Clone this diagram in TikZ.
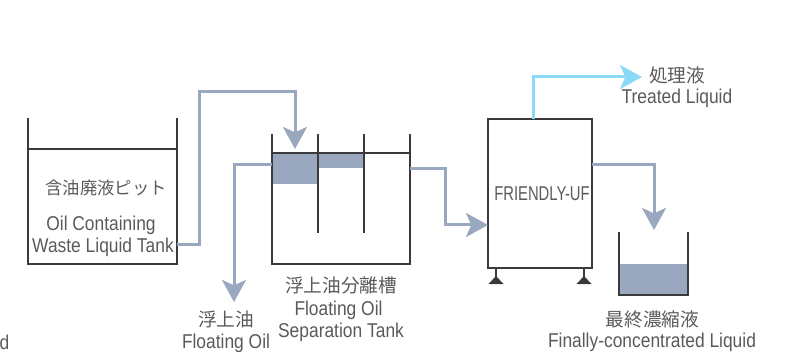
\documentclass[tikz,border=0pt]{standalone}
\usepackage{fontspec}
\setmainfont[FakeStretch=0.87]{Liberation Sans}
\newfontfamily\narrowfont[FakeStretch=0.74]{Liberation Sans}
\newfontfamily\cjk{Noto Sans CJK JP}
\usetikzlibrary{arrows.meta}
\definecolor{tankline}{HTML}{3A3A3A}
\definecolor{oilblue}{HTML}{9AA8BF}
\definecolor{cleanblue}{HTML}{8AD9F6}
\definecolor{labelgray}{HTML}{5A5A5A}

\begin{document}
\begin{tikzpicture}[x=0.75pt, y=-0.75pt]

    \tikzset{
        tank/.style={draw=tankline, line width=1.1pt},
        pipe/.style={draw=oilblue, line width=2.25pt},
        cleanpipe/.style={draw=cleanblue, line width=2.25pt},
        flow/.style={-{Stealth[length=16.5pt, width=18pt, inset=4pt]}},
        oil/.style={fill=oilblue, draw=none},
        jp/.style={text=labelgray, font=\fontsize{14}{16}\selectfont\cjk, inner sep=0pt},
        en/.style={text=labelgray, font=\fontsize{15}{17}\selectfont, inner sep=0pt}
    }

    \useasboundingbox (0, 0) rectangle (787, 352);

    % Where the pipes start, bend into and stop
    \begin{scope}
        \coordinate (pitout) at (177, 245);
        \coordinate (sepin) at (295, 149);
        \coordinate (oilout) at (272, 165);
        \coordinate (oilend) at (234, 302);
        \coordinate (sepout) at (410, 168.5);
        \coordinate (ufin) at (488, 225);
        \coordinate (ufclean) at (533, 119);
        \coordinate (cleanend) at (642, 77);
        \coordinate (ufconc) at (592, 165);
        \coordinate (concend) at (654, 230);
    \end{scope}

    % Oil layers, under the tank walls
    \begin{scope}
        \fill[oil] (272, 153) rectangle (318, 184);
        \fill[oil] (318, 153) rectangle (364, 168.5);
        \fill[oil] (619, 264) rectangle (688, 295);
    \end{scope}

    % Waste liquid pit
    \begin{scope}[tank]
        \draw (28, 118) -- (28, 264) -- (177, 264) -- (177, 118);
        \draw (28, 149) -- (177, 149);
    \end{scope}

    % Separation tank with its two dividers
    \begin{scope}[tank]
        \draw (272, 134) -- (272, 264) -- (410, 264) -- (410, 134);
        \draw (272, 153) -- (410, 153);
        \draw (318, 134) -- (318, 233);
        \draw (364, 134) -- (364, 233);
    \end{scope}

    % Unit on its two feet
    \begin{scope}[tank]
        \node (uf) at (540, 193.5) [draw=tankline, line width=1.1pt, minimum width=78pt,
            minimum height=111.75pt, inner sep=0pt] {};
        \draw (496, 268) -- (496, 278);
        \draw (584, 268) -- (584, 278);
        \fill[tankline] (496, 276) -- (503.5, 284) -- (488.5, 284) -- cycle;
        \fill[tankline] (584, 276) -- (591.5, 284) -- (576.5, 284) -- cycle;
    \end{scope}

    % Concentrate tank
    \begin{scope}[tank]
        \draw (619, 232) -- (619, 295) -- (688, 295) -- (688, 232);
    \end{scope}

    % Pipes
    \begin{scope}
        \draw[pipe, flow] (pitout) -- (199, 245) -- (199, 92) -- (295, 92) -- (sepin);
        \draw[pipe, flow] (oilout) -- (234, 165) -- (oilend);
        \draw[pipe, flow] (sepout) -- (445, 168.5) -- (445, 225) -- (ufin);
        \draw[cleanpipe, flow] (ufclean) -- (533, 77) -- (cleanend);
        \draw[pipe, flow] (ufconc) -- (654, 165) -- (concend);
    \end{scope}

    % Labels
    \node (pitjp) at (106, 188) [jp, font=\fontsize{13}{15}\selectfont\cjk] {含油廃液ピット};
    \node (piten1) at (101, 225.5) [en] {Oil Containing};
    \node (piten2) at (103, 247) [en] {Waste Liquid Tank};
    \node (oiljp) at (226, 319) [jp] {浮上油};
    \node (oilen) at (226, 343) [en] {Floating Oil};
    \node (sepjp) at (341, 285) [jp] {浮上油分離槽};
    \node (sepen1) at (338.5, 310) [en] {Floating Oil};
    \node (sepen2) at (341, 332.5) [en] {Separation Tank};
    \node (ufname) at (542, 193.5) [en, font=\fontsize{15}{17}\selectfont\narrowfont] {FRIENDLY-UF};
    \node (cleanjp) at (677, 75) [jp] {処理液};
    \node (cleanen) at (677, 98) [en] {Treated Liquid};
    \node (concjp) at (652.5, 319) [jp] {最終濃縮液};
    \node (concen) at (652, 342) [en] {Finally-concentrated Liquid};
    \node (cutoff) at (4.5, 342) [en] {d};

\end{tikzpicture}
\end{document}
